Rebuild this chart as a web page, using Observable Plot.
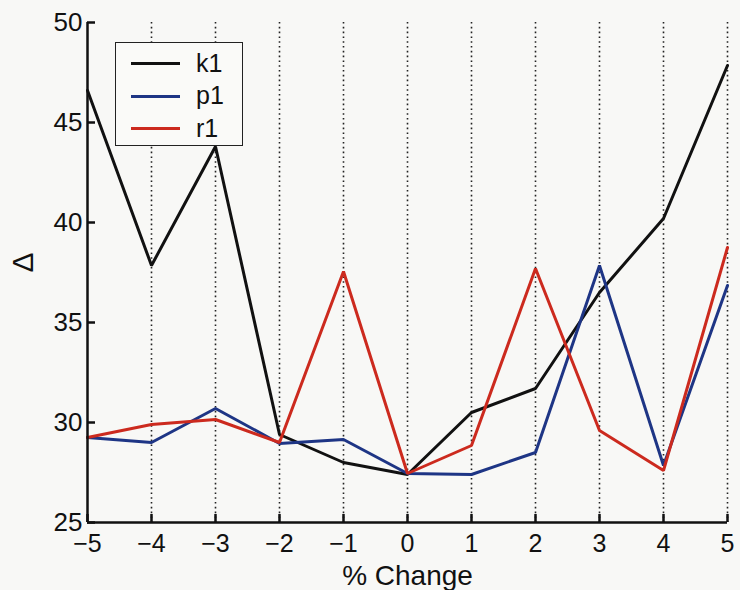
<!DOCTYPE html>
<html>
<head>
<meta charset="utf-8">
<script src="https://cdn.jsdelivr.net/npm/d3@7"></script>
<script src="https://cdn.jsdelivr.net/npm/@observablehq/plot@0.6"></script>
<style>
  html, body { margin: 0; padding: 0; background: #f8f8f6; }
  #wrap { position: relative; width: 740px; height: 590px; font-family: "Liberation Sans", Arial, sans-serif; }
  #legend { position: absolute; left: 115px; top: 42px; width: 126px; height: 102px; border: 1.5px solid #222; background: #fafaf8; box-sizing: content-box; }
  .item { position: absolute; left: 0; height: 30px; display: flex; align-items: center; font-size: 25px; color: #111; }
  .sw { position: absolute; left: 15px; width: 49px; height: 3px; }
  .lab { position: absolute; left: 80px; line-height: 1; }
</style>
</head>
<body>
<div id="wrap"></div>
<script>
const xValues = [-5, -4, -3, -2, -1, 0, 1, 2, 3, 4, 5];
const k1 = [46.6, 37.85, 43.8, 29.4, 28.0, 27.4, 30.5, 31.7, 36.5, 40.2, 47.85];
const p1 = [29.25, 29.0, 30.7, 28.95, 29.15, 27.45, 27.4, 28.5, 37.85, 27.85, 36.85];
const r1 = [29.25, 29.9, 30.15, 29.0, 37.55, 27.45, 28.85, 37.7, 29.6, 27.6, 38.75];
const seriesNames = ["k1", "p1", "r1"];
const seriesColors = ["#111111", "#1e3585", "#cc2a1e"];
const xTicks = [-5, -4, -3, -2, -1, 0, 1, 2, 3, 4, 5];
const yTicks = [25, 30, 35, 40, 45, 50];
const xLabel = "% Change";
const yLabel = "Δ";

const seriesValues = [k1, p1, r1];
const data = seriesNames.flatMap((name, i) =>
  xValues.map((x, j) => ({series: name, x, y: seriesValues[i][j]})));

const font = '"Liberation Sans", Arial, sans-serif';

const chart = Plot.plot({
  width: 740,
  height: 590,
  marginLeft: 87,
  marginRight: 13,
  marginTop: 22,
  marginBottom: 68,
  style: {background: "transparent", fontFamily: font, color: "#111"},
  x: {domain: [-5, 5], ticks: xTicks, label: null},
  y: {domain: [25, 50], ticks: yTicks, label: null},
  color: {domain: seriesNames, range: seriesColors},
  marks: [
    Plot.ruleX(xTicks.filter(d => d !== -5), {stroke: "#222", strokeWidth: 1.6, strokeDasharray: "1.6 3.2"}),
    Plot.line(data, {x: "x", y: "y", z: "series", stroke: "series", strokeWidth: 3, strokeLinejoin: "miter"}),
    Plot.ruleX([-5], {stroke: "#111", strokeWidth: 2.5}),
    Plot.ruleY([25], {stroke: "#111", strokeWidth: 2.5}),
    Plot.axisY(yTicks, {tickSize: 8, dx: 8, tickFormat: () => "", label: null, strokeWidth: 2.5, stroke: "#111"}),
    Plot.axisX(xTicks, {tickSize: 8, dy: -8, tickFormat: () => "", label: null, strokeWidth: 2.5, stroke: "#111"}),
    Plot.axisY(yTicks, {tickSize: 0, tickPadding: 5, fontSize: 26, label: null, fill: "#111"}),
    Plot.axisX(xTicks, {tickSize: 0, tickPadding: 12, fontSize: 25, label: null, fill: "#111"}),
    Plot.text([xLabel], {frameAnchor: "bottom", lineAnchor: "middle", dy: 54, fontSize: 28, fill: "#111"}),
    Plot.text([yLabel], {frameAnchor: "left", lineAnchor: "middle", dx: -64, rotate: -90, fontSize: 30, fill: "#111"})
  ]
});

const wrap = document.getElementById("wrap");
wrap.appendChild(chart);

const legend = document.createElement("div");
legend.id = "legend";
seriesNames.forEach((name, i) => {
  const item = document.createElement("div");
  item.className = "item";
  item.style.top = (5 + i * 32.5) + "px";
  item.style.width = "126px";
  const sw = document.createElement("div");
  sw.className = "sw";
  sw.style.background = seriesColors[i];
  sw.style.top = "14px";
  const lab = document.createElement("div");
  lab.className = "lab";
  lab.textContent = name;
  item.appendChild(sw);
  item.appendChild(lab);
  legend.appendChild(item);
});
wrap.appendChild(legend);
</script>
</body>
</html>
